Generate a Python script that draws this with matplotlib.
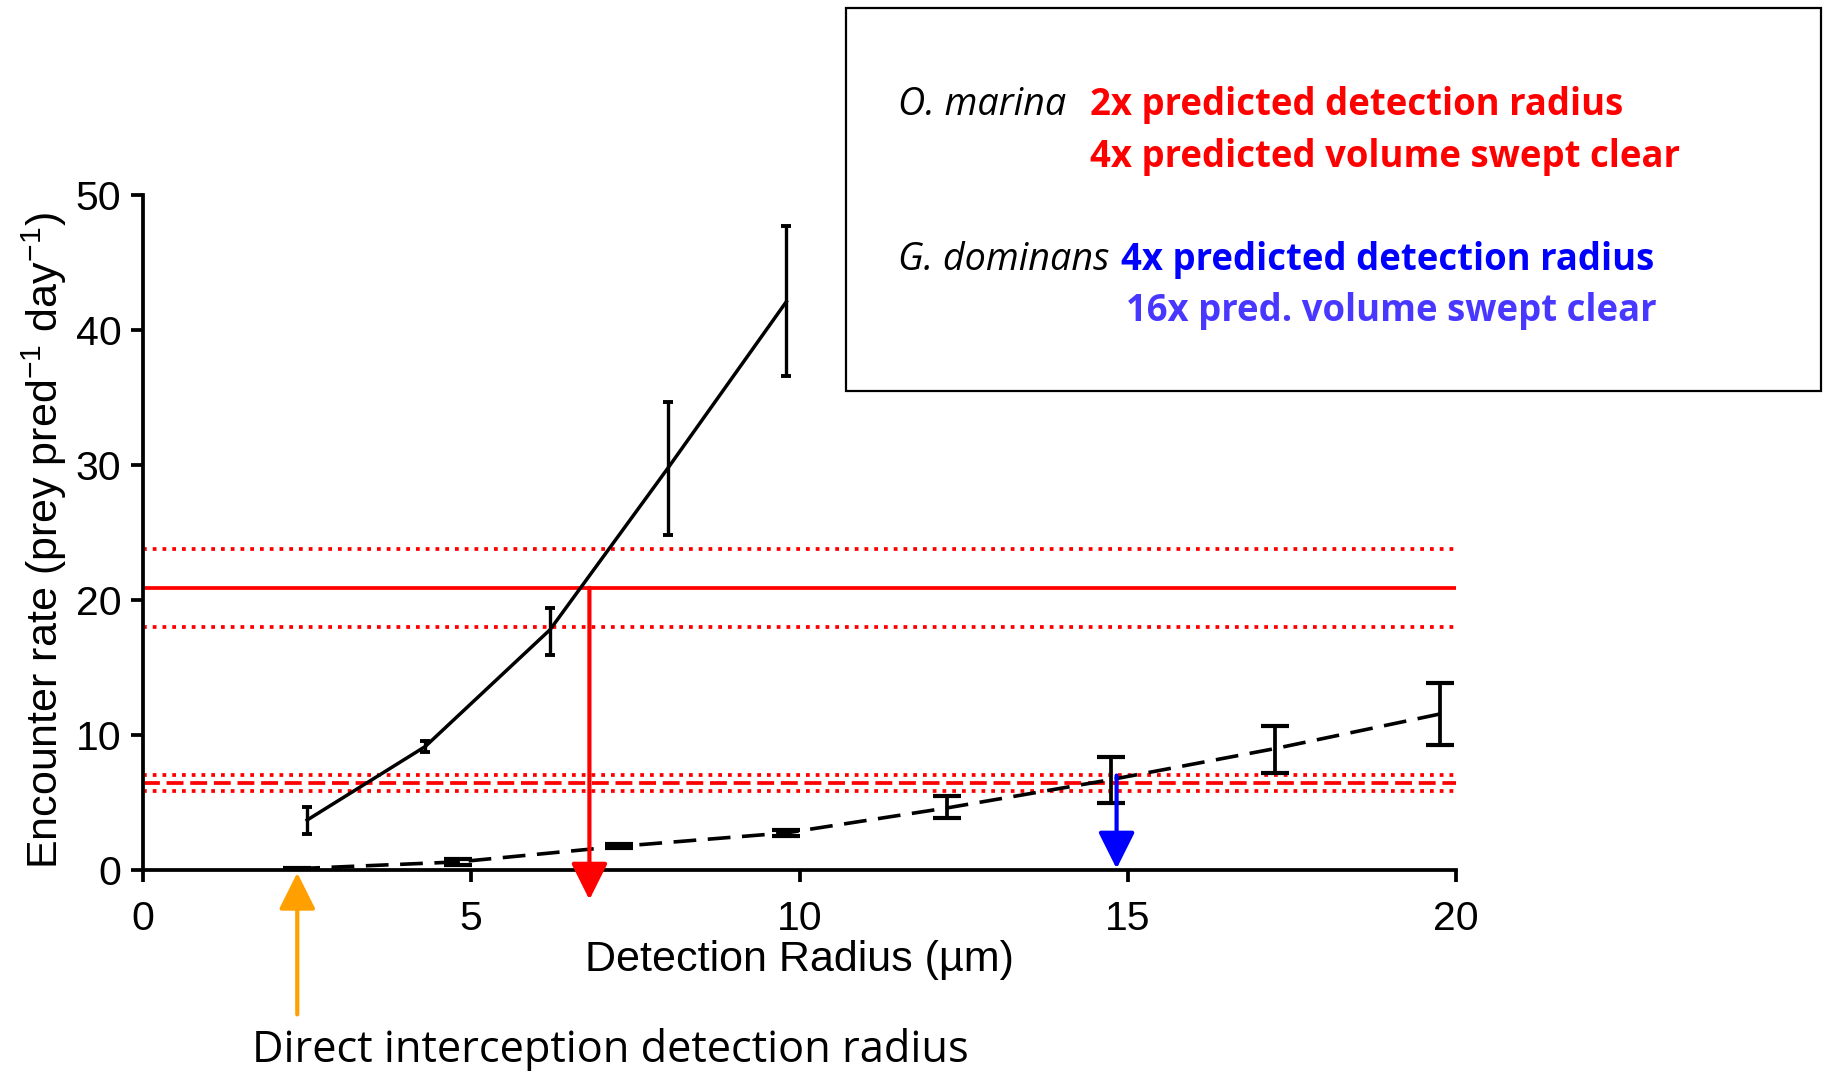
import matplotlib
matplotlib.use("Agg")
import matplotlib.pyplot as plt
from matplotlib.patches import Rectangle

# ---------------- data ----------------
# O. marina (solid line)
x_om = [2.5, 4.3, 6.2, 8.0, 9.8]
y_om = [3.7, 9.15, 17.8, 29.8, 42.1]
err_om_lo = [1.0, 0.4, 1.9, 4.95, 5.5]
err_om_hi = [1.0, 0.4, 1.6, 4.9, 5.6]

# G. dominans (dashed line)
x_gd = [2.35, 4.8, 7.25, 9.8, 12.25, 14.75, 17.25, 19.75]
y_gd = [0.1, 0.6, 1.75, 2.75, 4.6, 6.7, 9.0, 11.55]
err_gd_lo = [0.05, 0.25, 0.15, 0.25, 0.75, 1.75, 1.8, 2.3]
err_gd_hi = [0.05, 0.25, 0.15, 0.25, 0.85, 1.65, 1.7, 2.3]

# observed encounter rates (mean and bounds)
obs_om = 20.9
obs_om_bounds = [23.8, 18.0]
obs_gd = 6.45
obs_gd_bounds = [7.05, 5.88]

# arrows (x positions)
arrow_om_x = 6.8
arrow_gd_x = 14.83
arrow_di_x = 2.35

xticks = [0, 5, 10, 15, 20]
yticks = [0, 10, 20, 30, 40, 50]

# ---------------- figure ----------------
plt.rcParams['mathtext.fontset'] = 'custom'
plt.rcParams['mathtext.rm'] = 'Liberation Sans'
plt.rcParams['mathtext.it'] = 'Liberation Sans'
plt.rcParams['mathtext.bf'] = 'Liberation Sans:bold'

fig = plt.figure(figsize=(18.24, 10.71), dpi=100)
ax = fig.add_axes([143/1824, 1 - 870/1071, (1456-143)/1824, (870-195)/1071])

LW = 2.7
ax.set_xlim(0, 20)
ax.set_ylim(0, 50)

# observed lines
ax.plot([0, 20], [obs_om, obs_om], color='#FF0000', lw=LW, solid_capstyle='butt')
for b in obs_om_bounds:
    ax.plot([0, 20], [b, b], color='#FF0000', lw=LW, dashes=(1, 1.6))
ax.plot([0, 20], [obs_gd, obs_gd], color='#FF0000', lw=LW, dashes=(4.5, 1.8))
for b in obs_gd_bounds:
    ax.plot([0, 20], [b, b], color='#FF0000', lw=LW, dashes=(1, 1.6))

# model curves
ax.errorbar(x_om, y_om, yerr=[err_om_lo, err_om_hi], color='black', lw=2.5,
            elinewidth=2.4, capsize=3.8, capthick=2.8, zorder=4)
ax.errorbar(x_gd, y_gd, yerr=[err_gd_lo, err_gd_hi], color='black', lw=2.6,
            dashes=(6.3, 3.2), elinewidth=2.7, capsize=10, capthick=3.0, zorder=4)

# arrows
def arrow(x0, y0, x1, y1, color):
    ax.annotate('', xy=(x1, y1), xytext=(x0, y0), xycoords='data',
                annotation_clip=False,
                arrowprops=dict(arrowstyle='-|>,head_length=1.5,head_width=0.75',
                                mutation_scale=15, lw=3.0, color=color,
                                shrinkA=0, shrinkB=0), zorder=6)

arrow(arrow_om_x, obs_om, arrow_om_x, -2.2, '#FF0000')
arrow(arrow_gd_x, obs_gd + 0.55, arrow_gd_x, 0.1, '#0000FF')
arrow(arrow_di_x, -10.7, arrow_di_x, -0.2, '#FFA000')

# axes styling
for s in ['top', 'right']:
    ax.spines[s].set_visible(False)
for s in ['left', 'bottom']:
    ax.spines[s].set_linewidth(LW)
ax.set_xticks(xticks)
ax.set_yticks(yticks)
ax.tick_params(axis='both', direction='out', length=8.6, width=LW,
               labelsize=29.5)
ax.tick_params(axis='x', pad=13)
ax.tick_params(axis='y', pad=7)
for lab in ax.get_xticklabels() + ax.get_yticklabels():
    lab.set_fontfamily('Liberation Sans')

ax.set_xlabel('Detection Radius (µm)', fontsize=31, family='Liberation Sans',
              va='center')
ax.xaxis.set_label_coords(0.5, (870 - 960) / 675)
ax.set_ylabel('Encounter rate (prey pred$^{-1}$ day$^{-1}$)', fontsize=31,
              family='Liberation Sans', va='center')
ax.yaxis.set_label_coords((44 - 143) / 1313, (870 - 541) / 675)

# annotation box
fig.add_artist(Rectangle((846/1824, 1 - 391/1071), (1821-846)/1824, (391-8)/1071,
                         transform=fig.transFigure, fill=False, lw=1.6,
                         edgecolor='black'))

def ftxt(px, py, s, **kw):
    fig.text(px/1824, 1 - py/1071, s, va='baseline', ha='left',
             family='Open Sans', **kw)

FS = 26.3
FSI = 27.2
ftxt(898, 115, 'O. marina', fontsize=FSI, style='italic', color='black')
ftxt(1090, 115, '2x predicted detection radius', fontsize=FS, weight='bold', color='#FF0000')
ftxt(1090, 167, '4x predicted volume swept clear', fontsize=FS, weight='bold', color='#FF0000')
ftxt(898, 270, 'G. dominans', fontsize=FSI, style='italic', color='black')
ftxt(1121, 270, '4x predicted detection radius', fontsize=FS, weight='bold', color='#0000FF')
ftxt(1126, 321, '16x pred. volume swept clear', fontsize=FS, weight='bold', color='#4838FF')

ftxt(252, 1062, 'Direct interception detection radius', fontsize=31.2, color='black')

fig.savefig('out.png', dpi=100, facecolor='white')
